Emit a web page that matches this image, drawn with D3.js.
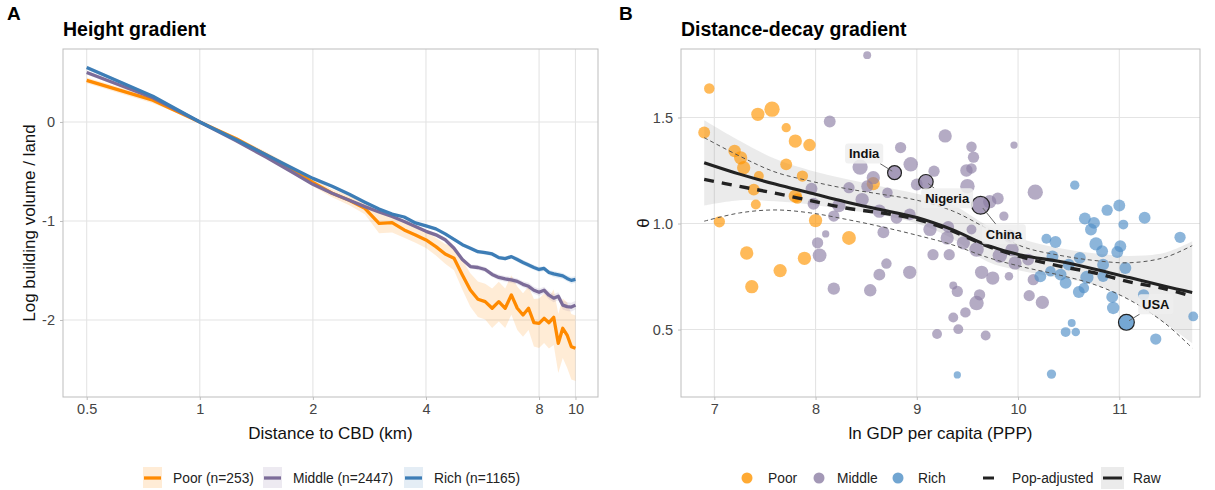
<!DOCTYPE html>
<html><head><meta charset="utf-8">
<script src="https://cdn.jsdelivr.net/npm/d3@7"></script>
<style>
body{margin:0;background:#fff;}
svg{display:block;font-family:"Liberation Sans",Arial,Helvetica,sans-serif;}
</style>
</head><body>
<svg id="c" width="1215" height="490"></svg>
<script>
// ---------------- DATA : Panel A (height gradient) ----------------
const dist = [0.5,0.75,1,1.25,1.5,1.75,2,2.25,2.5,2.75,3,3.25,3.5,3.75,4,4.25,4.5,4.75,5,5.25,5.5,5.75,6,6.25,6.5,6.75,7,7.25,7.5,7.75,8,8.25,8.5,8.75,9,9.25,9.5,9.75,10];
const poorVal = [0.42,0.22,0,-0.17,-0.33,-0.47,-0.61,-0.72,-0.79,-0.872,-1.024,-1.017,-1.09,-1.141,-1.192,-1.259,-1.333,-1.377,-1.545,-1.697,-1.791,-1.815,-1.882,-1.815,-1.882,-1.747,-1.882,-1.95,-1.882,-2.027,-2.034,-1.983,-2.027,-1.973,-2.236,-2.084,-2.152,-2.27,-2.286];
const poorSE  = [0.03,0.03,0,0.02,0.03,0.03,0.04,0.04,0.05,0.06,0.1,0.1,0.08,0.08,0.08,0.09,0.1,0.12,0.15,0.17,0.18,0.18,0.2,0.2,0.2,0.2,0.22,0.22,0.22,0.24,0.25,0.25,0.26,0.28,0.3,0.3,0.33,0.33,0.33];
const midVal  = [0.5,0.245,0,-0.19,-0.355,-0.5,-0.63,-0.72,-0.79,-0.855,-0.91,-0.955,-1.005,-1.055,-1.105,-1.14,-1.19,-1.275,-1.39,-1.46,-1.47,-1.49,-1.54,-1.57,-1.585,-1.596,-1.61,-1.64,-1.66,-1.7,-1.72,-1.7,-1.75,-1.78,-1.76,-1.85,-1.865,-1.87,-1.85];
const midSE   = [0.02,0.01,0,0.01,0.01,0.01,0.01,0.01,0.01,0.01,0.01,0.01,0.015,0.015,0.015,0.02,0.02,0.02,0.02,0.02,0.025,0.025,0.025,0.03,0.03,0.03,0.03,0.03,0.035,0.035,0.035,0.035,0.04,0.04,0.04,0.045,0.045,0.045,0.045];
const richVal = [0.55,0.26,0,-0.18,-0.33,-0.46,-0.57,-0.65,-0.73,-0.81,-0.88,-0.93,-0.96,-1.02,-1.05,-1.08,-1.13,-1.185,-1.24,-1.275,-1.31,-1.32,-1.333,-1.37,-1.38,-1.36,-1.39,-1.42,-1.445,-1.47,-1.49,-1.48,-1.52,-1.535,-1.545,-1.555,-1.58,-1.6,-1.59];
const richSE  = [0.02,0.01,0,0.01,0.01,0.01,0.01,0.01,0.01,0.01,0.01,0.01,0.01,0.01,0.015,0.015,0.015,0.015,0.015,0.02,0.02,0.02,0.02,0.02,0.02,0.02,0.025,0.025,0.025,0.025,0.025,0.025,0.025,0.03,0.03,0.03,0.03,0.035,0.035];
const groupNamesA = ["Poor (n=253)","Middle (n=2447)","Rich (n=1165)"];
const xTicksA = [0.5,1,2,4,8,10];
const xTickLabelsA = ["0.5","1","2","4","8","10"];
const yTicksA = [-2,-1,0];

// ---------------- DATA : Panel B (distance-decay gradient) ----------------
const poorGdp   = [6.95,7.43,7.57,7.71,6.90,7.80,7.94,7.20,7.26,7.29,7.71,7.44,7.87,7.39,7.80,7.82,7.41,8.57,7.05,8.00,7.32,8.33,7.89,7.65,7.37];
const poorTheta = [1.637,1.515,1.539,1.452,1.429,1.389,1.37,1.342,1.31,1.263,1.279,1.224,1.224,1.16,1.129,1.118,1.09,1.188,1.008,1.014,0.861,0.932,0.836,0.778,0.702];
const poorN     = [56,90,119,44,72,90,79,79,90,90,72,50,65,72,90,56,50,90,65,90,90,98,90,90,90];

const midGdp   = [8.51,8.14,8.84,8.44,8.57,8.94,9.17,9.00,8.71,8.51,8.33,7.96,8.46,7.98,8.23,8.63,8.80,8.18,9.28,9.54,9.56,9.96,9.49,9.54,9.50,10.17,9.80,9.72,9.86,9.13,9.31,9.30,9.46,9.59,9.54,9.16,9.32,8.93,9.64,9.75,9.82,9.94,9.97,9.91,9.36,9.40,9.62,9.59,9.48,9.36,9.41,9.20,9.68,10.11,10.24,10.15,10.10,9.92,8.93,8.10,8.02,8.04,8.67,8.70,8.63,8.18,8.54];
const midTheta = [1.794,1.481,1.358,1.266,1.216,1.279,1.247,1.184,1.145,1.176,1.169,1.164,1.113,1.093,1.085,1.058,1.027,1.035,1.413,1.362,1.313,1.37,1.25,1.26,1.176,1.148,1.118,1.103,1.035,0.972,0.984,0.932,0.909,0.877,0.972,0.853,0.853,0.77,0.77,0.743,0.849,0.877,0.814,0.751,0.708,0.68,0.664,0.625,0.581,0.557,0.502,0.479,0.472,0.66,0.628,0.735,0.83,0.94,1.043,0.951,0.909,0.85,0.959,0.811,0.759,0.693,0.685];
const midN     = [32,72,65,119,90,107,65,72,56,72,65,72,90,72,90,90,72,65,90,56,65,27,79,56,107,119,72,90,44,90,72,90,90,107,50,65,65,90,90,90,107,90,90,37,32,65,65,107,56,50,50,50,50,65,90,65,72,90,72,27,65,98,72,56,72,79,79];

const richGdp   = [11.60,11.73,11.36,10.93,10.94,11.24,10.53,10.47,10.57,9.40,10.33,11.25,11.04,10.66,10.75,10.72,10.28,10.37,10.77,10.83,11.01,10.98,10.61,10.34,10.42,10.32,10.22,10.47,10.60,10.65,10.68,10.84,11.06,10.50,10.84,10.56,10.88,11.00];
const richTheta = [0.935,0.562,0.455,0.654,0.602,0.664,0.531,0.488,0.488,0.286,0.29,1.027,0.995,1.024,1.003,0.972,0.928,0.913,0.904,0.869,0.893,0.866,0.838,0.845,0.759,0.775,0.751,0.72,0.677,0.696,0.746,0.806,0.79,0.806,0.751,1.181,1.063,1.085];
const richN     = [65,50,65,72,79,65,32,50,37,27,44,72,50,72,72,72,50,72,90,72,72,72,72,72,72,56,72,72,72,56,90,72,72,72,65,44,65,72];

const hlName     = ["India","Nigeria","China","USA"];
const hlGroup    = [1,1,1,2];
const hlGdp      = [8.78,9.09,9.63,11.07];
const hlTheta    = [1.24,1.197,1.086,0.534];
const hlN        = [98,107,162,128];
const hlLabGdp   = [8.48,9.30,9.86,11.36];
const hlLabTheta = [1.33,1.12,0.95,0.62];

const fitGdp = [6.9,7.25,7.6,7.95,8.3,8.65,9.0,9.35,9.7,10.05,10.4,10.75,11.1,11.45,11.72];
const rawFit = [1.287,1.233,1.186,1.144,1.102,1.065,1.028,0.971,0.897,0.849,0.822,0.786,0.745,0.704,0.675];
const rawLo  = [1.085,1.11,1.105,1.09,1.065,1.04,1.0,0.93,0.82,0.775,0.745,0.712,0.64,0.53,0.436];
const rawHi  = [1.487,1.39,1.305,1.25,1.21,1.175,1.14,1.09,0.99,0.925,0.885,0.86,0.847,0.862,0.916];
const popFit = [1.208,1.175,1.143,1.108,1.073,1.05,1.02,0.965,0.893,0.84,0.80,0.768,0.725,0.692,0.656];
const popLo  = [1.011,1.05,1.064,1.05,1.02,0.985,0.945,0.9,0.84,0.795,0.758,0.713,0.64,0.53,0.413];
const popHi  = [1.405,1.318,1.243,1.2,1.165,1.138,1.11,1.06,0.975,0.89,0.851,0.826,0.815,0.84,0.896];
const groupNamesB = ["Poor","Middle","Rich"];
const xTicksB = [7,8,9,10,11];
const yTicksB = [0.5,1.0,1.5];

// ---------------- STYLE ----------------
const FONT = '"Liberation Sans", Arial, Helvetica, sans-serif';
const lineColA = ["#FF8A00","#7C6C99","#3D7DB6"];
const ptCol = ["#FF9500","#8C7EA4","#4E8EC6"];
const gridCol = "#E4E4E4", borderCol = "#BDBDBD", tickTxt = "#444444";
const A = {l:63, r:598, t:49, b:397};
const B = {l:681, r:1200, t:49, b:397};

const svg = d3.select("#c");

function styleAxis(g){
  g.select(".domain").remove();
  g.selectAll(".tick line").attr("stroke", borderCol);
  g.selectAll(".tick text").attr("fill", tickTxt).attr("font-size", 14.5).attr("font-family", FONT);
}

// ================= PANEL A =================
const xA = d3.scaleLog().domain([0.4324, 11.48]).range([A.l, A.r]);
const yA = d3.scaleLinear().domain([-2.778, 0.737]).range([A.b, A.t]);
const gA = svg.append("g");
gA.append("defs").append("clipPath").attr("id","clipA").append("rect")
  .attr("x",A.l).attr("y",A.t).attr("width",A.r-A.l).attr("height",A.b-A.t);
gA.selectAll(".gxa").data(xTicksA).join("line")
  .attr("x1",d=>xA(d)).attr("x2",d=>xA(d)).attr("y1",A.t).attr("y2",A.b)
  .attr("stroke",gridCol).attr("stroke-width",1.1);
gA.selectAll(".gya").data(yTicksA).join("line")
  .attr("x1",A.l).attr("x2",A.r).attr("y1",d=>yA(d)).attr("y2",d=>yA(d))
  .attr("stroke",gridCol).attr("stroke-width",1.1);

const seriesA = [[poorVal,poorSE],[midVal,midSE],[richVal,richSE]];
const plotA = gA.append("g").attr("clip-path","url(#clipA)");
const ribbonOp = [0.16,0.14,0.14];
seriesA.forEach(([v,se],k)=>{
  const area = d3.area().x((d,i)=>xA(dist[i])).y0((d,i)=>yA(v[i]-se[i])).y1((d,i)=>yA(v[i]+se[i]));
  plotA.append("path").attr("d",area(v)).attr("fill",lineColA[k]).attr("opacity",ribbonOp[k]);
});
seriesA.forEach(([v],k)=>{
  const line = d3.line().x((d,i)=>xA(dist[i])).y(d=>yA(d));
  plotA.append("path").attr("d",line(v)).attr("fill","none").attr("stroke",lineColA[k])
    .attr("stroke-width",3.3).attr("stroke-linejoin","round");
});
gA.append("rect").attr("x",A.l).attr("y",A.t).attr("width",A.r-A.l).attr("height",A.b-A.t)
  .attr("fill","none").attr("stroke",borderCol).attr("stroke-width",1);
gA.append("g").attr("transform",`translate(0,${A.b})`)
  .call(d3.axisBottom(xA).tickValues(xTicksA).tickFormat((d,i)=>xTickLabelsA[i]).tickSize(3).tickPadding(4))
  .call(styleAxis);
gA.append("g").attr("transform",`translate(${A.l},0)`)
  .call(d3.axisLeft(yA).tickValues(yTicksA).tickFormat(d3.format("d")).tickSize(3).tickPadding(5))
  .call(styleAxis);
gA.selectAll(".tick text").text(function(){return this.textContent.replace("\u2212","-");});

svg.append("text").attr("x",7).attr("y",20).attr("font-weight","bold").attr("font-size",19).attr("fill","#000").text("A");
svg.append("text").attr("x",A.l).attr("y",36).attr("font-weight","bold").attr("font-size",19.5).attr("fill","#000").text("Height gradient");
svg.append("text").attr("x",(A.l+A.r)/2).attr("y",439).attr("text-anchor","middle").attr("font-size",17).attr("fill","#111").text("Distance to CBD (km)");
svg.append("text").attr("transform",`translate(35,${(A.t+A.b)/2}) rotate(-90)`).attr("text-anchor","middle").attr("font-size",17).attr("fill","#111").text("Log building volume / land");

// legend A
const legAx = [143,263,404];
groupNamesA.forEach((name,k)=>{
  const g = svg.append("g");
  g.append("rect").attr("x",legAx[k]).attr("y",467).attr("width",19).attr("height",21).attr("fill",lineColA[k]).attr("opacity",ribbonOp[k]);
  g.append("line").attr("x1",legAx[k]+1).attr("x2",legAx[k]+18).attr("y1",478).attr("y2",478).attr("stroke",lineColA[k]).attr("stroke-width",3.3);
  g.append("text").attr("x",legAx[k]+30).attr("y",478).attr("dy","0.35em").attr("font-size",13.8).attr("fill","#222").text(name);
});

// ================= PANEL B =================
const xB = d3.scaleLinear().domain([6.671, 11.797]).range([B.l, B.r]);
const yB = d3.scaleLinear().domain([0.182, 1.823]).range([B.b, B.t]);
const rS = d3.scaleSqrt().domain([0,200]).range([0,9.9]);
const gB = svg.append("g");
gB.append("defs").append("clipPath").attr("id","clipB").append("rect")
  .attr("x",B.l).attr("y",B.t).attr("width",B.r-B.l).attr("height",B.b-B.t);
gB.selectAll(".gxb").data(xTicksB).join("line")
  .attr("x1",d=>xB(d)).attr("x2",d=>xB(d)).attr("y1",B.t).attr("y2",B.b)
  .attr("stroke",gridCol).attr("stroke-width",1.1);
gB.selectAll(".gyb").data(yTicksB).join("line")
  .attr("x1",B.l).attr("x2",B.r).attr("y1",d=>yB(d)).attr("y2",d=>yB(d))
  .attr("stroke",gridCol).attr("stroke-width",1.1);

const plotB = gB.append("g").attr("clip-path","url(#clipB)");
const curve = d3.curveCatmullRom.alpha(0.5);
const ribbon = d3.area().curve(curve).x((d,i)=>xB(fitGdp[i])).y0((d,i)=>yB(rawLo[i])).y1((d,i)=>yB(rawHi[i]));
plotB.append("path").attr("d",ribbon(fitGdp)).attr("fill","#999").attr("opacity",0.2);

const ptsB = [[poorGdp,poorTheta,poorN],[midGdp,midTheta,midN],[richGdp,richTheta,richN]];
ptsB.forEach(([gx,gy,gn],k)=>{
  plotB.append("g").selectAll("circle").data(gx).join("circle")
    .attr("cx",(d,i)=>xB(gx[i])).attr("cy",(d,i)=>yB(gy[i])).attr("r",(d,i)=>rS(gn[i]))
    .attr("fill",ptCol[k]).attr("fill-opacity",0.65);
});
plotB.append("g").selectAll("circle").data(hlName).join("circle")
  .attr("cx",(d,i)=>xB(hlGdp[i])).attr("cy",(d,i)=>yB(hlTheta[i])).attr("r",(d,i)=>rS(hlN[i]))
  .attr("fill",(d,i)=>ptCol[hlGroup[i]]).attr("fill-opacity",0.78)
  .attr("stroke","#222").attr("stroke-width",1.2);

const fitLine = arr => d3.line().curve(curve).x((d,i)=>xB(fitGdp[i])).y((d,i)=>yB(arr[i]))(fitGdp);
[popLo,popHi].forEach(arr=>{
  plotB.append("path").attr("d",fitLine(arr)).attr("fill","none").attr("stroke","#555")
    .attr("stroke-width",1).attr("stroke-dasharray","4,3");
});
plotB.append("path").attr("d",fitLine(popFit)).attr("fill","none").attr("stroke","#222")
  .attr("stroke-width",3.4).attr("stroke-dasharray","10,8");
plotB.append("path").attr("d",fitLine(rawFit)).attr("fill","none").attr("stroke","#222")
  .attr("stroke-width",3.1);

// labels
const gLab = gB.append("g");
hlName.forEach((name,i)=>{
  const px=xB(hlGdp[i]), py=yB(hlTheta[i]), r=rS(hlN[i]);
  const lx=xB(hlLabGdp[i]), ly=yB(hlLabTheta[i]);
  const grp = gLab.append("g");
  const rect = grp.append("rect");
  const t = grp.append("text").attr("x",lx).attr("y",ly).attr("dy","0.35em").attr("text-anchor","middle")
    .attr("font-weight","bold").attr("font-size",13).attr("fill","#111").text(name);
  const bb = t.node().getBBox();
  const padX=3.5, padY=2.5;
  const hw = bb.width/2+padX, hh = bb.height/2+padY;
  const cy = bb.y+bb.height/2;
  rect.attr("x",lx-hw).attr("y",cy-hh).attr("width",2*hw).attr("height",2*hh).attr("rx",3)
    .attr("fill","#EEEEEE").attr("fill-opacity",0.85);
  const dx=px-lx, dy=py-cy, len=Math.hypot(dx,dy);
  const ux=dx/len, uy=dy/len;
  const tb = Math.min(hw/Math.max(Math.abs(ux),1e-6), hh/Math.max(Math.abs(uy),1e-6));
  if (len - r - tb > 2){
    grp.insert("line","rect")
      .attr("x1",lx+ux*tb).attr("y1",cy+uy*tb).attr("x2",px-ux*r*0.4).attr("y2",py-uy*r*0.4)
      .attr("stroke","#666").attr("stroke-width",1);
  }
});

gB.append("rect").attr("x",B.l).attr("y",B.t).attr("width",B.r-B.l).attr("height",B.b-B.t)
  .attr("fill","none").attr("stroke",borderCol).attr("stroke-width",1);
gB.append("g").attr("transform",`translate(0,${B.b})`)
  .call(d3.axisBottom(xB).tickValues(xTicksB).tickFormat(d3.format("d")).tickSize(3).tickPadding(4))
  .call(styleAxis);
gB.append("g").attr("transform",`translate(${B.l},0)`)
  .call(d3.axisLeft(yB).tickValues(yTicksB).tickFormat(d3.format(".1f")).tickSize(3).tickPadding(5))
  .call(styleAxis);

svg.append("text").attr("x",619).attr("y",20).attr("font-weight","bold").attr("font-size",19).attr("fill","#000").text("B");
svg.append("text").attr("x",B.l).attr("y",36).attr("font-weight","bold").attr("font-size",19.5).attr("fill","#000").text("Distance-decay gradient");
svg.append("text").attr("x",(B.l+B.r)/2).attr("y",439).attr("text-anchor","middle").attr("font-size",17).attr("fill","#111").text("ln GDP per capita (PPP)");
svg.append("text").attr("transform",`translate(649,${(B.t+B.b)/2}) rotate(-90)`).attr("text-anchor","middle").attr("font-size",17).attr("fill","#111").text("θ");

// legend B
const legBdot = [747,819,898];
const legBtxt = [768,837,918];
groupNamesB.forEach((name,k)=>{
  svg.append("circle").attr("cx",legBdot[k]).attr("cy",478).attr("r",5.5).attr("fill",ptCol[k]).attr("fill-opacity",0.8);
  svg.append("text").attr("x",legBtxt[k]).attr("y",478).attr("dy","0.35em").attr("font-size",13.8).attr("fill","#222").text(name);
});
svg.append("line").attr("x1",983).attr("x2",994).attr("y1",478).attr("y2",478).attr("stroke","#222").attr("stroke-width",3);
svg.append("text").attr("x",1012).attr("y",478).attr("dy","0.35em").attr("font-size",13.8).attr("fill","#222").text("Pop-adjusted");
svg.append("rect").attr("x",1101).attr("y",467).attr("width",23).attr("height",22).attr("fill","#999").attr("opacity",0.2);
svg.append("line").attr("x1",1103).attr("x2",1122).attr("y1",478).attr("y2",478).attr("stroke","#222").attr("stroke-width",3);
svg.append("text").attr("x",1133).attr("y",478).attr("dy","0.35em").attr("font-size",13.8).attr("fill","#222").text("Raw");
</script>
</body></html>
